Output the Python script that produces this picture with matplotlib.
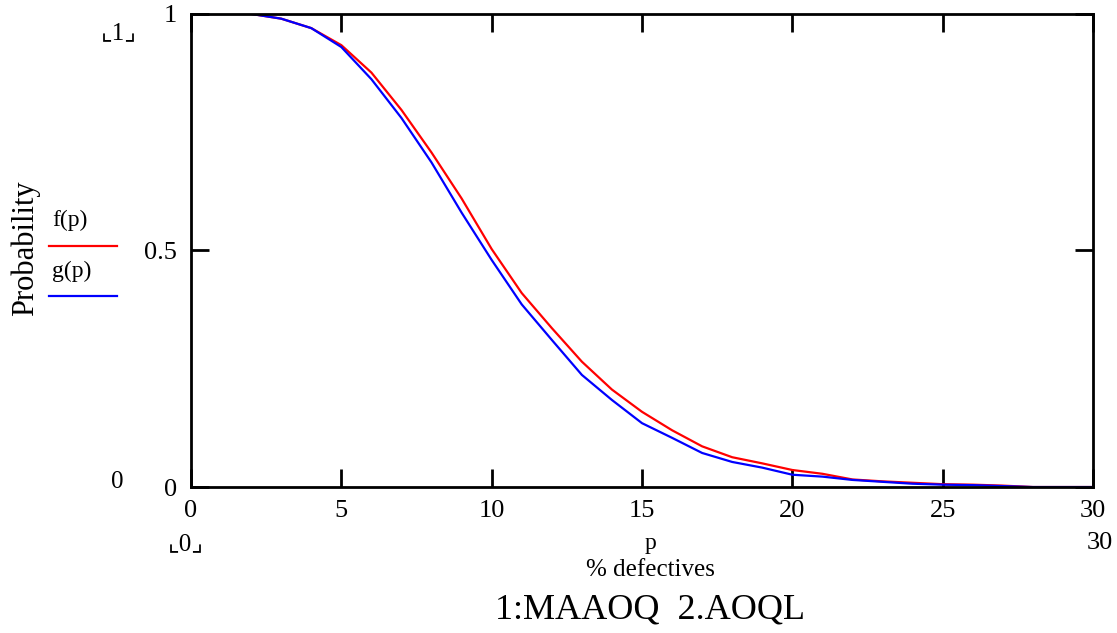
import matplotlib
matplotlib.use('Agg')
import matplotlib.pyplot as plt
import numpy as npy

# percent defectives
p = list(range(0, 31))
# f(p) - red curve
f_p = [1.0, 1.0, 1.0, 0.99, 0.97, 0.934, 0.876, 0.797, 0.707, 0.61, 0.503,
       0.41, 0.336, 0.265, 0.206, 0.159, 0.12, 0.086, 0.063, 0.05, 0.036,
       0.028, 0.016, 0.012, 0.009, 0.006, 0.005, 0.003, 0.0, 0.0, 0.0]
# g(p) - blue curve
g_p = [1.0, 1.0, 1.0, 0.99, 0.97, 0.93, 0.862, 0.78, 0.686, 0.58, 0.48,
       0.386, 0.311, 0.237, 0.184, 0.135, 0.104, 0.072, 0.053, 0.041, 0.026,
       0.022, 0.015, 0.011, 0.007, 0.005, 0.004, 0.002, 0.0, 0.0, 0.0]
xticks = [0, 5, 10, 15, 20, 25, 30]
yticks = [0, 0.5, 1]
ytick_labels = ['0', '0.5', '1']

serif = ['Liberation Serif', 'DejaVu Serif']
withsym = ['Liberation Serif', 'DejaVu Sans']
plt.rcParams['font.family'] = serif

fig = plt.figure(figsize=(11.17, 6.33), dpi=100)
ax = fig.add_axes([0.171, 0.2306, 0.8075, 0.7474])

ax.plot(p, f_p, color='red', linewidth=1.6, solid_joinstyle='miter')
ax.plot(p, g_p, color='blue', linewidth=1.6, solid_joinstyle='miter')

ax.set_xlim(0, 30)
ax.set_ylim(0, 1)
for s in ax.spines.values():
    s.set_linewidth(2.0)
    s.set_color('black')

ax.set_xticks(xticks)
ax.set_xticklabels([str(t) for t in xticks])
ax.set_yticks(yticks)
ax.set_yticklabels(ytick_labels)
ax.tick_params(direction='in', length=13, width=2.0, top=True, right=True,
               labelsize=19)
ax.tick_params(axis='x', pad=9)
ax.tick_params(axis='y', pad=10)
for lab in ax.get_xticklabels() + ax.get_yticklabels():
    lab.set_fontfamily(serif)

# y-axis label
fig.text(0.023, 0.608, 'Probability', rotation=90, fontsize=22,
         ha='center', va='center', family=serif)

# legend-like labels
fig.text(0.047, 0.652, 'f(p)', fontsize=17, ha='left', va='center', family=serif)
fig.add_artist(plt.Line2D([0.044, 0.105], [0.611, 0.611], color='red', linewidth=1.6))
fig.text(0.047, 0.572, 'g(p)', fontsize=17, ha='left', va='center', family=serif)
fig.add_artist(plt.Line2D([0.044, 0.105], [0.532, 0.532], color='blue', linewidth=1.6))

# axis limit markers
fig.text(0.106, 0.947, '⌞1⌟', fontsize=18, ha='center', va='center', family=withsym)
fig.text(0.105, 0.239, '0', fontsize=18, ha='center', va='center', family=serif)
fig.text(0.166, 0.14, '⌞0⌟', fontsize=18, ha='center', va='center', family=withsym)
fig.text(0.985, 0.142, '30', fontsize=19, ha='center', va='center', family=serif)

# x labels
fig.text(0.582, 0.141, 'p', fontsize=17, ha='center', va='center', family=serif)
fig.text(0.582, 0.099, '% defectives', fontsize=18, ha='center', va='center', family=serif)
fig.text(0.582, 0.036, '1:MAAOQ  2.AOQL', fontsize=26, ha='center', va='center', family=serif)

fig.savefig('out.png', dpi=100)
plt.close()
